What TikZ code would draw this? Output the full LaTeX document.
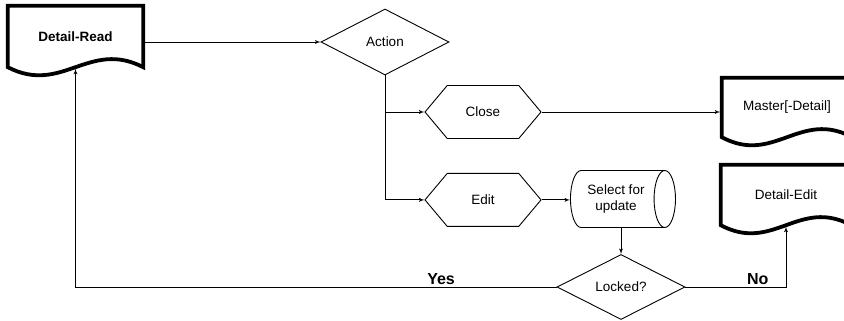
\documentclass[tikz,border=0pt]{standalone}
\usepackage{fontspec}
\setmainfont{Liberation Sans}
\usetikzlibrary{shapes, arrows, positioning, calc}

% thick outline of a document symbol round a node
\newcommand{\docborder}[1]{
  \draw[line width=3.8pt, line join=miter]
    (#1.north) -- (#1.north east) -- (#1.south east)
    .. controls ($(#1.south west)!0.6!(#1.south east)+(0,-28)$)
    and ($(#1.south west)!0.4!(#1.south east)+(0,28)$) .. (#1.south west)
    -- (#1.north west) -- cycle;
}

\begin{document}
\begin{tikzpicture}[auto,>=latex', x=1pt, y=-1pt, font=\fontsize{13.5}{16}\selectfont]

\tikzstyle{document} = [shape=rectangle, minimum width=130pt, minimum height=60pt, inner sep=0pt]
\tikzstyle{decision} = [draw, shape=diamond, aspect=2, minimum width=128pt, minimum height=66pt, inner sep=0pt, line width=0.9pt]
\tikzstyle{choice} = [draw, shape=signal, signal to=west and east, signal pointer angle=100, minimum width=116pt, minimum height=53pt, line width=0.9pt]
\tikzstyle{storage} = [draw, shape=cylinder, shape aspect=0.7, minimum width=57pt, minimum height=105pt, line width=0.9pt, align=center, inner sep=1pt]
\tikzstyle{line} = [line width=0.9pt]
\tikzstyle{answer} = [font=\fontsize{16}{19}\selectfont\bfseries, above, inner sep=2pt]

\useasboundingbox (0,0) rectangle (844,321);

%Creating Blocks
\node[document, minimum width=135pt, minimum height=61pt, font=\fontsize{13.5}{16}\selectfont\bfseries] at (75.5,36.5) (read) {Detail-Read};
\node[decision] at (385,42) (action) {Action};
\node[choice] at (483,112) (close) {Close};
\node[choice, below=34pt of close] (edit) {Edit};
\node[storage] at (616,199) (select) {Select for\\update};
\node[decision, minimum height=65pt] at (621,287) (locked) {Locked?};
\node[document, minimum height=59pt] at (787,107.5) (master) {Master[-Detail]};
\node[document] at (786,195) (dedit) {Detail-Edit};

\docborder{read}
\docborder{master}
\docborder{dedit}

%Connecting Blocks
\draw[->, line] (read.east |- action.west) -- (action.west);
\draw[line] (action.south) -- (action.south |- edit.west);
\draw[->, line] (action.south |- close.west) -- (close.west);
\draw[->, line] (action.south |- edit.west) -- (edit.west);
\draw[->, line, shorten >=1.5pt] (close.east) -- (master.west |- close.east);
\draw[->, line] (edit.east) -- (edit.east -| select.west);
\draw[->, line] (locked.north |- select.south) -- (locked.north);
\draw[->, line, shorten >=1.5pt] (locked.east) -- node[answer, pos=0.72] {No} (dedit.south |- locked.east) -- (dedit.south);
\draw[->, line, shorten >=1.5pt] (locked.west) -- node[answer, pos=0.24] {Yes} (read.south |- locked.west) -- (read.south);

\end{tikzpicture}
\end{document}
